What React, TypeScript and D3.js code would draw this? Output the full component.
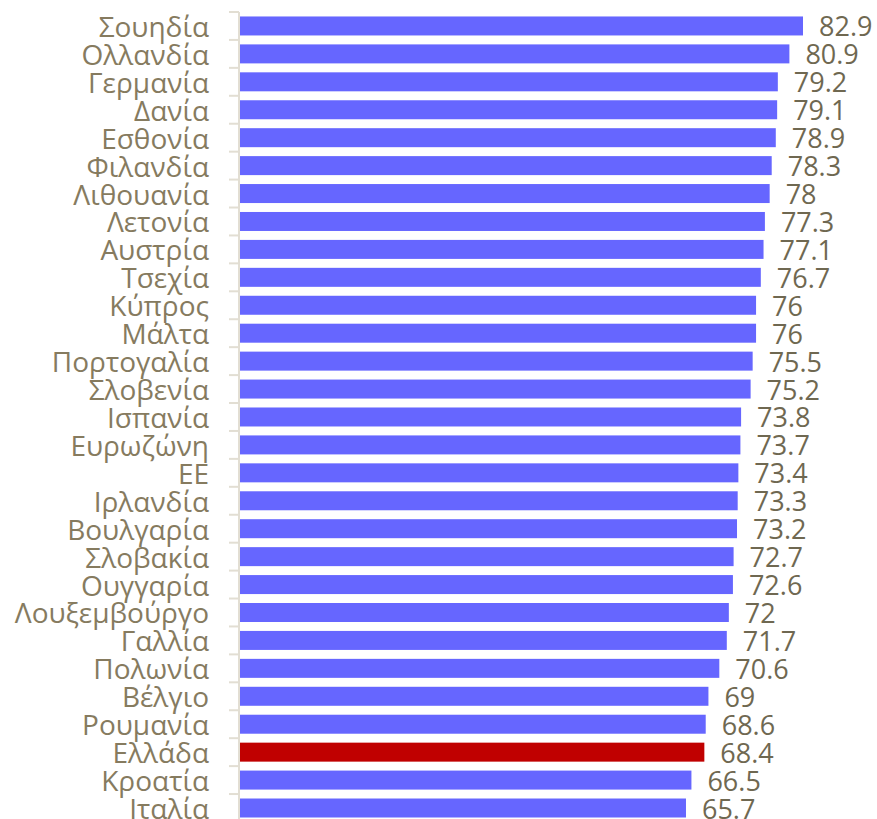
import React from 'react';
import * as d3 from 'd3';

// countries, top to bottom
const countries = [
  'Σουηδία', 'Ολλανδία', 'Γερμανία', 'Δανία', 'Εσθονία', 'Φιλανδία',
  'Λιθουανία', 'Λετονία', 'Αυστρία', 'Τσεχία', 'Κύπρος', 'Μάλτα',
  'Πορτογαλία', 'Σλοβενία', 'Ισπανία', 'Ευρωζώνη', 'ΕΕ', 'Ιρλανδία',
  'Βουλγαρία', 'Σλοβακία', 'Ουγγαρία', 'Λουξεμβούργο', 'Γαλλία',
  'Πολωνία', 'Βέλγιο', 'Ρουμανία', 'Ελλάδα', 'Κροατία', 'Ιταλία'
];
const values = [
  82.9, 80.9, 79.2, 79.1, 78.9, 78.3, 78, 77.3, 77.1, 76.7, 76, 76,
  75.5, 75.2, 73.8, 73.7, 73.4, 73.3, 73.2, 72.7, 72.6, 72, 71.7,
  70.6, 69, 68.6, 68.4, 66.5, 65.7
];
const highlight = 'Ελλάδα';

const W = 877;
const H = 819;
const axisX = 239;

export default function App() {
  const data = countries.map((c, i) => ({ name: c, value: values[i] }));

  const y = d3
    .scaleBand()
    .domain(countries)
    .range([12, 12 + 29 * 27.93])
    .paddingInner(0.32)
    .paddingOuter(0.16);

  const x = d3.scaleLinear().domain([0, 82.9]).range([axisX, 803]);

  const step = y.step();
  // tick positions between categories
  const ticks = d3.range(0, countries.length + 1).map(i => 12 + i * step);

  return (
    <svg
      width={W}
      height={H}
      style={{ position: 'absolute', left: 0, top: 0, display: 'block' }}
    >
      <rect width={W} height={H} fill="white" />
      {data.map(d => (
        <rect
          key={d.name}
          x={axisX + 1}
          y={y(d.name)}
          width={x(d.value) - axisX - 1}
          height={y.bandwidth()}
          fill={d.name === highlight ? '#C00000' : '#6666FF'}
        />
      ))}
      {/* category axis */}
      <line x1={axisX} x2={axisX} y1={ticks[0]} y2={H} stroke="#E2DED3" strokeWidth={2} />
      {ticks.map((t, i) => (
        <line key={i} x1={229} x2={axisX} y1={t} y2={t} stroke="#E2DED3" strokeWidth={2} />
      ))}
      {data.map(d => (
        <text
          key={'l' + d.name}
          x={209}
          y={(y(d.name) as number) + y.bandwidth() / 2 + 11}
          textAnchor="end"
          fontFamily="'Open Sans', sans-serif"
          fontSize={28}
          fill="#867B5F"
        >
          {d.name}
        </text>
      ))}
      {data.map(d => (
        <text
          key={'v' + d.name}
          x={x(d.value) + 16}
          y={(y(d.name) as number) + y.bandwidth() / 2 + 10.5}
          fontFamily="'Open Sans', sans-serif"
          fontSize={27}
          fill="#6F6851"
        >
          {d.value}
        </text>
      ))}
    </svg>
  );
}
